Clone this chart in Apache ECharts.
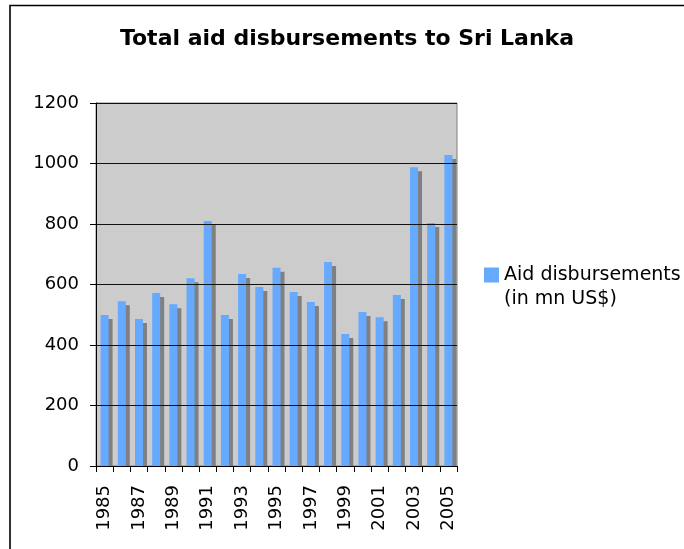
<!DOCTYPE html>
<html>
<head>
<meta charset="utf-8">
<script src="https://cdn.jsdelivr.net/npm/echarts@6/dist/echarts.min.js"></script>
<style>
html,body{margin:0;padding:0;background:#fff;}
#chart{width:684px;height:549px;}
</style>
</head>
<body>
<div id="chart"></div>
<script>
var years = ['1985','1986','1987','1988','1989','1990','1991','1992','1993','1994','1995','1996','1997','1998','1999','2000','2001','2002','2003','2004','2005'];
var aid = [499,545,486,572,535,621,810,499,635,592,655,575,542,674,436,509,492,565,988,803,1028];
var seriesName = 'Aid disbursements (in mn US$)';
var yMin = 0, yMax = 1200, yStep = 200;

var chart = echarts.init(document.getElementById('chart'));
var font = 'DejaVu Sans, Verdana, sans-serif';
chart.setOption({
  backgroundColor: '#ffffff',
  animation: false,
  title: {
    text: 'Total aid disbursements to Sri Lanka',
    left: 342, top: 23, textAlign: 'center',
    textStyle: {fontFamily: font, fontWeight: 'bold', fontSize: 22, color: '#000'}
  },
  graphic: [{
    type: 'rect', silent: true, z: 100,
    shape: {x: 10, y: 5.5, width: 700, height: 600},
    style: {fill: 'none', stroke: '#000', lineWidth: 1.6}
  }, {
    type: 'rect', silent: true, z: 3,
    shape: {x: 90, y: 467, width: 380, height: 6},
    style: {fill: '#fff'}
  }],
  legend: {
    left: 479, top: 258, orient: 'vertical',
    itemWidth: 15, itemHeight: 39, itemGap: 10,
    icon: 'path://M0,0L15,0L15,15L0,15Z M0,39L0.001,39L0,39.001Z',
    formatter: function(){ return 'Aid disbursements\n(in mn US$)'; },
    textStyle: {fontFamily: font, fontSize: 19, color: '#000', lineHeight: 24},
    data: [{name: seriesName, itemStyle: {color: '#66AAFF'}}]
  },
  grid: {left: 96, right: 227, top: 103, bottom: 83, show: true, backgroundColor: '#CCCCCC', borderColor: '#808080', borderWidth: 1},
  xAxis: {
    type: 'category', data: years, boundaryGap: true, z: 10,
    axisLine: {lineStyle: {color: '#000', width: 1}},
    axisTick: {show: true, interval: 0, length: 6, lineStyle: {color: '#000'}},
    axisLabel: {show: true, interval: 1, rotate: 90, hideOverlap: false, margin: 19, fontFamily: font, fontSize: 18, color: '#000'}
  },
  yAxis: {
    type: 'value', min: yMin, max: yMax, interval: yStep, z: 10,
    axisLine: {show: true, lineStyle: {color: '#000', width: 1}},
    axisTick: {show: true, length: 6, lineStyle: {color: '#000'}},
    splitLine: {show: true, lineStyle: {color: '#111', width: 1}},
    axisLabel: {margin: 17, fontFamily: font, fontSize: 18, color: '#000', formatter: function(v){ return String(v); }}
  },
  series: [{
    name: seriesName, type: 'bar', data: aid, barWidth: 8,
    itemStyle: {color: '#66AAFF', shadowColor: '#808080', shadowBlur: 0, shadowOffsetX: 4, shadowOffsetY: 4}
  }]
});
</script>
</body>
</html>
